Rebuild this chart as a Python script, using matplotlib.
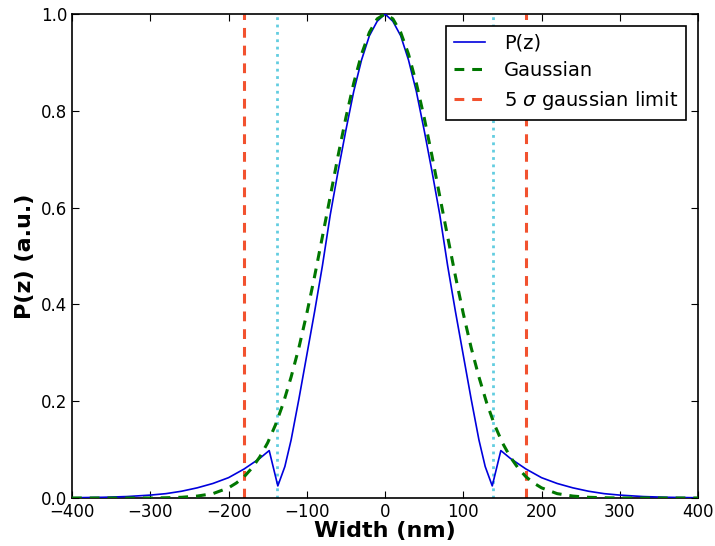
import numpy as np
import matplotlib
matplotlib.use('Agg')
import matplotlib.pyplot as plt

# P(z), positive half (curve is symmetric)
pz_x_half = [0, 10, 20, 30, 40, 50, 60, 70, 80, 90, 100, 110, 120, 128, 137,
             148, 160, 180, 200, 220, 240, 260, 280, 300, 330, 360, 400]
pz_y_half = [1.0, 0.985, 0.955, 0.905, 0.84, 0.76, 0.675, 0.585, 0.48, 0.385,
             0.295, 0.205, 0.12, 0.065, 0.025,
             0.098, 0.082, 0.06, 0.042, 0.030, 0.021, 0.014, 0.009, 0.006,
             0.003, 0.0015, 0.0005]

# gaussian fit, positive half
g_x_half = [0, 10, 20, 30, 40, 50, 60, 70, 80, 90, 100, 110, 120, 130, 140,
            150, 160, 170, 180, 190, 200, 220, 240, 260, 280, 300, 400]
g_y_half = [1.0, 0.990, 0.962, 0.917, 0.857, 0.786, 0.707, 0.623, 0.540,
            0.458, 0.381, 0.311, 0.250, 0.196, 0.151, 0.114, 0.085, 0.062,
            0.044, 0.031, 0.021, 0.009, 0.004, 0.0015, 0.0005, 0.0, 0.0]

limit_5sigma = 180.0
limit_inner = 137.5

x_ticks = [-400, -300, -200, -100, 0, 100, 200, 300, 400]
y_ticks = [0.0, 0.2, 0.4, 0.6, 0.8, 1.0]


def mirror(xs, ys):
    xs = np.asarray(xs, float)
    ys = np.asarray(ys, float)
    return np.concatenate([-xs[:0:-1], xs]), np.concatenate([ys[:0:-1], ys])


pz_x, pz_y = mirror(pz_x_half, pz_y_half)
g_x, g_y = mirror(g_x_half, g_y_half)

plt.rcParams['xtick.direction'] = 'in'
plt.rcParams['ytick.direction'] = 'in'
plt.rcParams['xtick.top'] = True
plt.rcParams['ytick.right'] = True
plt.rcParams['xtick.major.size'] = 5
plt.rcParams['ytick.major.size'] = 5

fig = plt.figure(figsize=(7.15, 5.46), dpi=100)
ax = fig.add_axes([0.1007, 0.0879, 0.8756, 0.8865])

red = '#f2522f'
cyan = '#62cde0'

ax.plot(pz_x, pz_y, color='#0000dd', lw=1.2, label='P(z)', zorder=3)
ax.plot(g_x, g_y, color='#007700', lw=2.2, dashes=(3.2, 2.6),
        label='Gaussian', zorder=3)
ax.axvline(-limit_5sigma, color=red, lw=2.2, dashes=(3.2, 2.6),
           label=r'5 $\sigma$ gaussian limit', zorder=2)
ax.axvline(limit_5sigma, color=red, lw=2.2, dashes=(3.2, 2.6), zorder=2)
for xv in (-limit_inner, limit_inner):
    ax.axvline(xv, color=cyan, lw=2, ls=':', zorder=2)

ax.set_xlim(-400, 400)
ax.set_ylim(0, 1)
ax.set_xticks(x_ticks)
ax.set_yticks(y_ticks)
ax.tick_params(labelsize=12)
ax.set_xlabel('Width (nm)', fontsize=16, fontweight='bold', labelpad=0)
ax.set_ylabel('P(z) (a.u.)', fontsize=16, fontweight='bold', labelpad=4)
for s in ax.spines.values():
    s.set_linewidth(1.2)

leg = ax.legend(loc='upper right', fontsize=14, fancybox=False,
                framealpha=1, edgecolor='black', handlelength=1.6,
                handletextpad=1.0, borderaxespad=0.6, labelspacing=0.45)
leg.get_frame().set_linewidth(1.2)

fig.savefig('out.png', dpi=100)
